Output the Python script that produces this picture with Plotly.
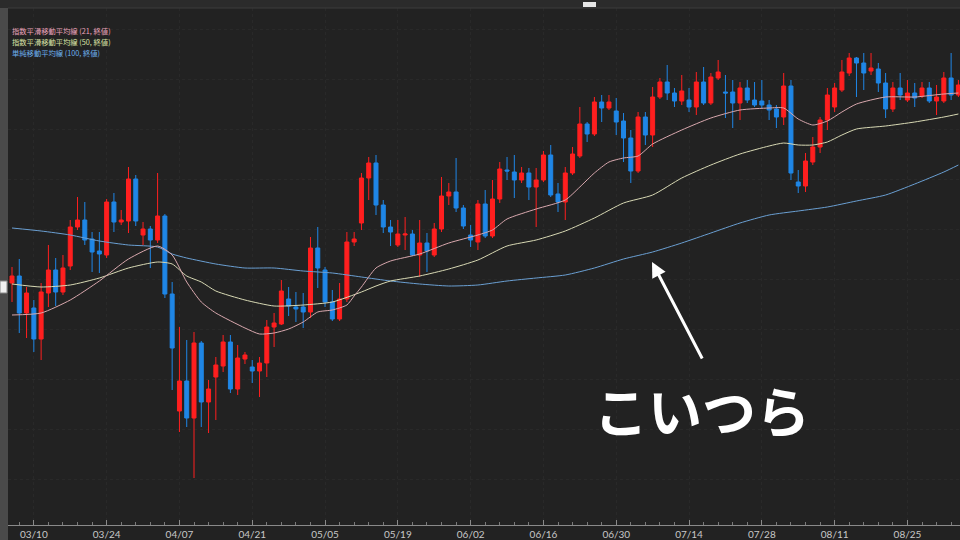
import plotly.graph_objects as go

# ---- data (price units, arbitrary scale) ----
idx = list(range(131))
open_ = [257,264,227,232,201,247,270,248,274,313,
         320,301,289,285,338,318,319,361,305,311,
         300,324,246,129,159,122,197,138,163,174,
         198,151,181,173,169,177,213,216,241,233,
         233,228,292,270,238,221,241,298,317,362,
         377,335,313,295,305,306,285,297,285,311,
         344,348,332,305,298,336,304,341,370,368,
         360,367,353,360,385,346,338,367,384,416,
         406,438,432,429,419,402,369,423,405,443,
         458,447,439,440,433,458,437,462,448,448,
         437,452,440,439,435,431,423,454,358,354,
         378,393,420,433,450,467,482,477,469,471,
         457,431,452,440,447,444,452,439,439,462,
         445]
high = [273,281,253,240,257,295,282,285,320,343,
        338,308,308,341,347,330,373,365,318,314,
        367,326,258,213,200,208,199,160,183,205,
        205,195,188,180,183,220,227,260,253,248,
        247,303,313,273,250,257,308,308,367,383,
        385,340,320,320,323,310,320,307,317,363,
        357,382,335,315,340,350,360,378,383,385,
        373,372,372,389,395,357,373,393,433,418,
        443,445,445,442,427,410,428,428,453,462,
        475,452,465,452,468,473,467,480,465,460,
        458,460,458,460,440,435,467,460,370,387,
        403,423,452,457,480,487,483,487,487,477,
        467,458,467,460,457,458,458,455,468,487,
        460]
low = [238,207,202,188,180,233,234,245,270,310,
       295,268,267,282,308,315,307,314,295,272,
       297,242,150,108,113,62,113,107,120,168,
       147,145,176,157,143,163,193,215,224,218,
       212,222,252,233,219,219,238,294,310,340,
       325,307,294,293,290,284,263,268,283,308,
       335,328,311,293,290,302,302,337,360,342,
       357,340,313,358,343,328,320,365,382,398,
       404,418,430,405,378,357,367,395,393,441,
       440,433,435,428,425,435,435,460,422,412,
       420,437,433,432,420,412,415,360,347,348,
       375,387,410,428,448,464,443,450,465,448,
       422,428,440,438,433,442,437,425,437,440,
       443]
close = [264,227,247,201,248,270,248,272,313,320,
         300,288,286,338,318,320,361,319,311,300,
         324,246,192,159,122,197,138,151,175,198,
         151,182,185,169,177,213,217,249,234,231,
         228,292,272,238,221,241,298,301,362,377,
         335,313,308,306,306,285,297,289,311,344,
         348,332,314,300,336,304,341,371,369,360,
         367,353,360,385,345,338,367,386,416,406,
         438,432,438,418,402,369,423,405,443,458,
         447,439,449,433,458,437,463,468,447,437,
         452,440,435,435,430,423,454,367,354,379,
         393,420,445,452,468,482,477,467,472,457,
         431,452,445,447,442,452,439,443,462,445,
         455]

ema21_idx = [0,4,8,12,16,20,22,24,26,28,32,34,36,38,40,42,44,46,47,48,50,52,56,60,64,66,68,72,76,78,80,82,84,86,88,92,96,100,104,106,108,110,112,114,116,120,124,128,130]
ema21_val = [225,227,240,259,281,294,285,258,238,227,212,206,207,211,218,228,230,235,244,253,272,279,286,297,305,310,321,331,340,353,367,378,382,384,396,410,422,430,432,432,421,415,419,428,436,443,443,446,447]

ema50_idx = [0,4,8,12,16,20,22,24,26,28,32,36,40,44,48,50,52,56,60,64,68,72,76,80,84,88,92,96,100,104,106,108,110,112,114,116,120,124,128,130]
ema50_val = [256,253,255,262,272,278,276,264,258,249,240,234,235,238,248,254,259,264,271,280,294,300,309,322,337,345,362,375,386,394,397,395,395,398,405,411,414,418,423,426]

sma100_idx = [0,4,8,12,16,20,22,24,28,32,36,40,44,48,52,56,60,64,68,72,76,80,84,88,92,96,100,104,108,112,116,120,124,128,130]
sma100_val = [312,309,305,299,295,293,286,282,276,272,272,269,267,263,259,256,254,255,259,262,265,272,281,288,297,307,317,325,329,333,339,345,356,368,375]

tick_idx = [3,13,23,33,43,53,63,73,83,93,103,113,123]
tick_labels = ["03/10","03/24","04/07","04/21","05/05","05/19","06/02",
               "06/16","06/30","07/14","07/28","08/11","08/25"]
minor_idx = list(range(1, 131, 2))

legend_texts = ["指数平滑移動平均線 (21, 終値)",
                "指数平滑移動平均線 (50, 終値)",
                "単純移動平均線 (100, 終値)"]
legend_colors = ["#e9a2bb", "#d9e3a6", "#6db0ee"]

UP = "#ff1f1f"
DOWN = "#1f86e6"
BG = "#222222"

fig = go.Figure()
fig.add_trace(go.Candlestick(
    x=idx, open=open_, high=high, low=low, close=close,
    increasing=dict(line=dict(color=UP, width=1), fillcolor=UP),
    decreasing=dict(line=dict(color=DOWN, width=1), fillcolor=DOWN),
    whiskerwidth=0, showlegend=False, hoverinfo="skip"))

fig.add_trace(go.Scatter(x=sma100_idx, y=sma100_val, mode="lines",
                         line=dict(color="#6a9fd2", width=1, shape="spline", smoothing=0.6),
                         showlegend=False, hoverinfo="skip"))
fig.add_trace(go.Scatter(x=ema50_idx, y=ema50_val, mode="lines",
                         line=dict(color="#d8d9b4", width=1, shape="spline", smoothing=0.6),
                         showlegend=False, hoverinfo="skip"))
fig.add_trace(go.Scatter(x=ema21_idx, y=ema21_val, mode="lines",
                         line=dict(color="#d9a8ae", width=1, shape="spline", smoothing=0.6),
                         showlegend=False, hoverinfo="skip"))

annotations = []
for k, (t, c) in enumerate(zip(legend_texts, legend_colors)):
    annotations.append(dict(text=t, xref="paper", yref="paper",
                            x=(10 - 8) / 952, y=(525 - (31.5 + 10.6 * k)) / 517,
                            xanchor="left", yanchor="middle", showarrow=False,
                            font=dict(family="Noto Sans CJK JP", size=7.3, color=c)))

annotations.append(dict(text="こいつら", xref="paper", yref="paper",
                        x=(702 - 8) / 952, y=(525 - 409) / 517,
                        xanchor="center", yanchor="middle", showarrow=False,
                        font=dict(family="Noto Sans CJK JP", size=54, color="white", weight="bold")))

annotations.append(dict(text="", xref="paper", yref="paper",
                        x=(652 - 8) / 952, y=(525 - 262) / 517,
                        ax=51, ay=98, showarrow=True, arrowhead=2, arrowsize=1,
                        arrowwidth=3, arrowcolor="white"))

shapes = [
    # left strip
    dict(type="rect", xref="paper", yref="paper", x0=-8 / 952, x1=0, y0=-15 / 517, y1=532 / 517,
         fillcolor="#4a4a4a", line=dict(width=0), layer="above"),
    # top strip
    dict(type="rect", xref="paper", yref="paper", x0=-8 / 952, x1=1, y0=1, y1=532 / 517,
         fillcolor="#2b2b2b", line=dict(width=0), layer="above"),
    dict(type="line", xref="paper", yref="paper", x0=0, x1=1, y0=1, y1=1,
         line=dict(color="#3c3c3c", width=1), layer="above"),
    # top marker
    dict(type="rect", xref="paper", yref="paper", x0=(583 - 8) / 952, x1=(596 - 8) / 952,
         y0=(525 - 7) / 517, y1=(525 - 2) / 517, fillcolor="#e6e6e6", line=dict(width=0), layer="above"),
    # left marker
    dict(type="rect", xref="paper", yref="paper", x0=-8 / 952, x1=-1 / 952,
         y0=(525 - 293) / 517, y1=(525 - 281) / 517, fillcolor="#f0f0f0",
         line=dict(color="#888888", width=1), layer="above"),
]

fig.update_layout(
    width=960, height=540,
    margin=dict(l=8, r=0, t=8, b=15),
    paper_bgcolor=BG, plot_bgcolor=BG,
    boxgap=0.22,
    showlegend=False,
    annotations=annotations,
    shapes=shapes,
    xaxis=dict(range=[-0.55, 130.22], rangeslider=dict(visible=False),
               tickmode="array", tickvals=tick_idx, ticktext=tick_labels,
               ticks="inside", ticklen=5, tickcolor="#8a8a8a", tickwidth=1,
               showline=True, linecolor="#8a8a8a", linewidth=1,
               showgrid=True, gridcolor="#292929", griddash="dot",
               zeroline=False,
               tickfont=dict(family="Lato", size=10, color="#c8c8c8"),
               minor=dict(tickvals=minor_idx, ticks="inside", ticklen=3,
                          tickcolor="#7a7a7a", showgrid=False)),
    yaxis=dict(range=[15, 532], showticklabels=False, ticks="",
               showgrid=True, gridcolor="#292929", griddash="dot",
               tick0=11, dtick=50, zeroline=False, showline=False),
)

fig.write_html("out.html", config={"displayModeBar": False, "staticPlot": True},
               post_script="document.body.style.margin='0';document.body.style.overflow='hidden';document.body.style.background='#222222';")
